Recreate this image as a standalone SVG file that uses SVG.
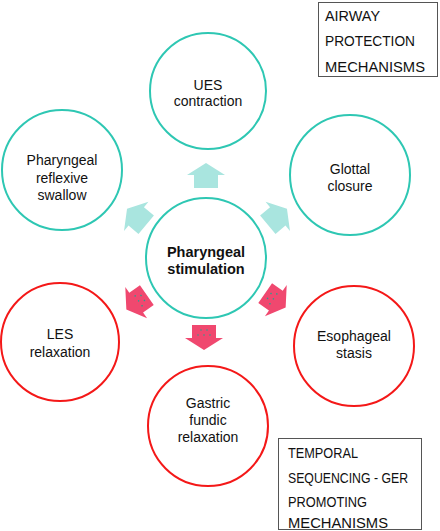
<svg xmlns="http://www.w3.org/2000/svg" width="440" height="531" viewBox="0 0 440 531">
<defs>
<style>
.teal{fill:#ffffff;stroke:#2ec7b3;stroke-width:2}
.red{fill:#ffffff;stroke:#f41818;stroke-width:2}
.t{font-family:"Liberation Sans",Arial,sans-serif;font-size:14px;fill:#111;text-anchor:middle}
.b{font-weight:bold;font-size:14.5px}
.box{fill:#ffffff;stroke:#555;stroke-width:1}
.bt{font-family:"Liberation Sans",Arial,sans-serif;font-size:14.5px;fill:#111}
.up{fill:#a9e5df}
.down{fill:#f0486f}
.dot{fill:#2a9d8f}
</style>
<path id="arr" d="M0,-13 L19,-1 L12,-1 L12,12 L-12,12 L-12,-1 L-19,-1 Z"/>
<g id="dots">
<circle class="dot" cx="-6" cy="2" r="0.8"/><circle class="dot" cx="0" cy="2" r="0.8"/><circle class="dot" cx="6" cy="2" r="0.8"/>
<circle class="dot" cx="-3" cy="7" r="0.8"/><circle class="dot" cx="3" cy="7" r="0.8"/>
</g>
</defs>
<g id="connectors">
<use href="#arr" class="up" transform="translate(206,176)"/>
<use href="#arr" class="up" transform="translate(137,217) rotate(-50)"/>
<use href="#arr" class="up" transform="translate(277,217) rotate(50)"/>
<g transform="translate(137,302) rotate(-125)"><use href="#arr" class="down"/><use href="#dots"/></g>
<g transform="translate(275,300) rotate(125)"><use href="#arr" class="down"/><use href="#dots"/></g>
<g transform="translate(204,337) rotate(180)"><use href="#arr" class="down"/><use href="#dots"/></g>
</g>
<g id="center">
<circle class="teal" cx="206" cy="258" r="60"/>
<text class="t b" x="206" y="257">Pharyngeal</text>
<text class="t b" x="206" y="274">stimulation</text>
</g>
<g id="ues">
<circle class="teal" cx="208" cy="91" r="58"/>
<text class="t" x="208" y="90">UES</text>
<text class="t" x="208" y="106">contraction</text>
</g>
<g id="swallow">
<circle class="teal" cx="62" cy="170" r="60"/>
<text class="t" x="62" y="165">Pharyngeal</text>
<text class="t" x="62" y="183">reflexive</text>
<text class="t" x="62" y="200">swallow</text>
</g>
<g id="glottal">
<circle class="teal" cx="350" cy="175" r="60"/>
<text class="t" x="350" y="174">Glottal</text>
<text class="t" x="350" y="191">closure</text>
</g>
<g id="les">
<circle class="red" cx="60" cy="342" r="59"/>
<text class="t" x="60" y="339">LES</text>
<text class="t" x="60" y="357">relaxation</text>
</g>
<g id="stasis">
<circle class="red" cx="354" cy="346" r="60"/>
<text class="t" x="354" y="341">Esophageal</text>
<text class="t" x="354" y="358">stasis</text>
</g>
<g id="gastric">
<circle class="red" cx="208" cy="426" r="60"/>
<text class="t" x="208" y="408">Gastric</text>
<text class="t" x="208" y="425">fundic</text>
<text class="t" x="208" y="442">relaxation</text>
</g>
<g id="airway-box">
<rect class="box" x="318.5" y="2.5" width="119" height="74"/>
<text class="bt" x="325" y="21" textLength="55" lengthAdjust="spacingAndGlyphs">AIRWAY</text>
<text class="bt" x="325" y="46" textLength="90" lengthAdjust="spacingAndGlyphs">PROTECTION</text>
<text class="bt" x="325" y="72" textLength="100" lengthAdjust="spacingAndGlyphs">MECHANISMS</text>
</g>
<g id="temporal-box">
<rect class="box" x="278.5" y="438.5" width="143" height="91"/>
<text class="bt" x="288" y="458" textLength="70" lengthAdjust="spacingAndGlyphs">TEMPORAL</text>
<text class="bt" x="288" y="483" textLength="120" lengthAdjust="spacingAndGlyphs">SEQUENCING - GER</text>
<text class="bt" x="288" y="507" textLength="79" lengthAdjust="spacingAndGlyphs">PROMOTING</text>
<text class="bt" x="288" y="528" textLength="100" lengthAdjust="spacingAndGlyphs">MECHANISMS</text>
</g>
</svg>
